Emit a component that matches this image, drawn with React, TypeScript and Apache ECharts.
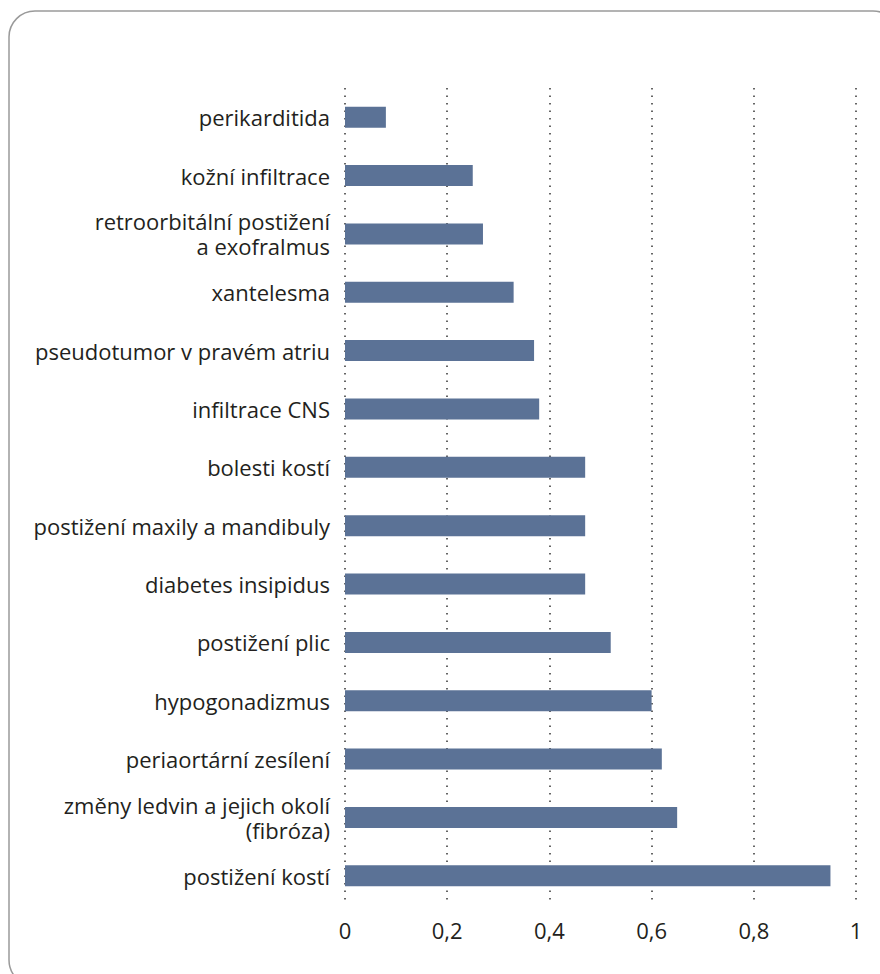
import React, { useEffect, useRef } from "react";
import * as echarts from "echarts";

const categories = [
  "perikarditida",
  "kožní infiltrace",
  "retroorbitální postižení\na exofralmus",
  "xantelesma",
  "pseudotumor v pravém atriu",
  "infiltrace CNS",
  "bolesti kostí",
  "postižení maxily a mandibuly",
  "diabetes insipidus",
  "postižení plic",
  "hypogonadizmus",
  "periaortární zesílení",
  "změny ledvin a jejich okolí\n(fibróza)",
  "postižení kostí",
];
const values = [0.08, 0.25, 0.27, 0.33, 0.37, 0.38, 0.47, 0.47, 0.47, 0.52, 0.6, 0.62, 0.65, 0.95];

const FONT = "'Open Sans', 'Noto Sans', sans-serif";

export default function App() {
  const ref = useRef<HTMLDivElement>(null);
  useEffect(() => {
    if (!ref.current) return;
    const chart = echarts.init(ref.current, undefined, { renderer: "svg" });
    chart.setOption({
      animation: false,
      graphic: [
        {
          type: "rect",
          shape: { x: 9, y: 11, width: 890, height: 975, r: 26 },
          style: { fill: "none", stroke: "#9a9a9a", lineWidth: 1.5 },
          silent: true,
        },
      ],
      grid: { left: 345, right: 24, top: 88, bottom: 69, containLabel: false },
      xAxis: {
        type: "value",
        min: 0,
        max: 1,
        interval: 0.2,
        axisLine: { show: false },
        axisTick: { show: false },
        axisLabel: {
          fontFamily: FONT,
          fontSize: 22,
          color: "#231f20",
          margin: 14,
          formatter: (v: number) => String(Math.round(v * 10) / 10).replace(".", ","),
        },
        splitLine: { show: true, lineStyle: { color: "#333", width: 1.5, type: [1.5, 6] } },
      },
      yAxis: {
        type: "category",
        data: categories,
        inverse: true,
        axisLine: { show: false },
        axisTick: { show: false },
        axisLabel: {
          fontFamily: FONT,
          fontSize: 22,
          lineHeight: 25,
          color: "#231f20",
          margin: 15,
          align: "right",
        },
      },
      series: [
        {
          type: "bar",
          data: values,
          barWidth: 21,
          itemStyle: { color: "#5b7296" },
          silent: true,
        },
      ],
    });
    return () => chart.dispose();
  }, []);
  return <div ref={ref} style={{ position: "absolute", left: 0, top: 0, width: 880, height: 974 }} />;
}
